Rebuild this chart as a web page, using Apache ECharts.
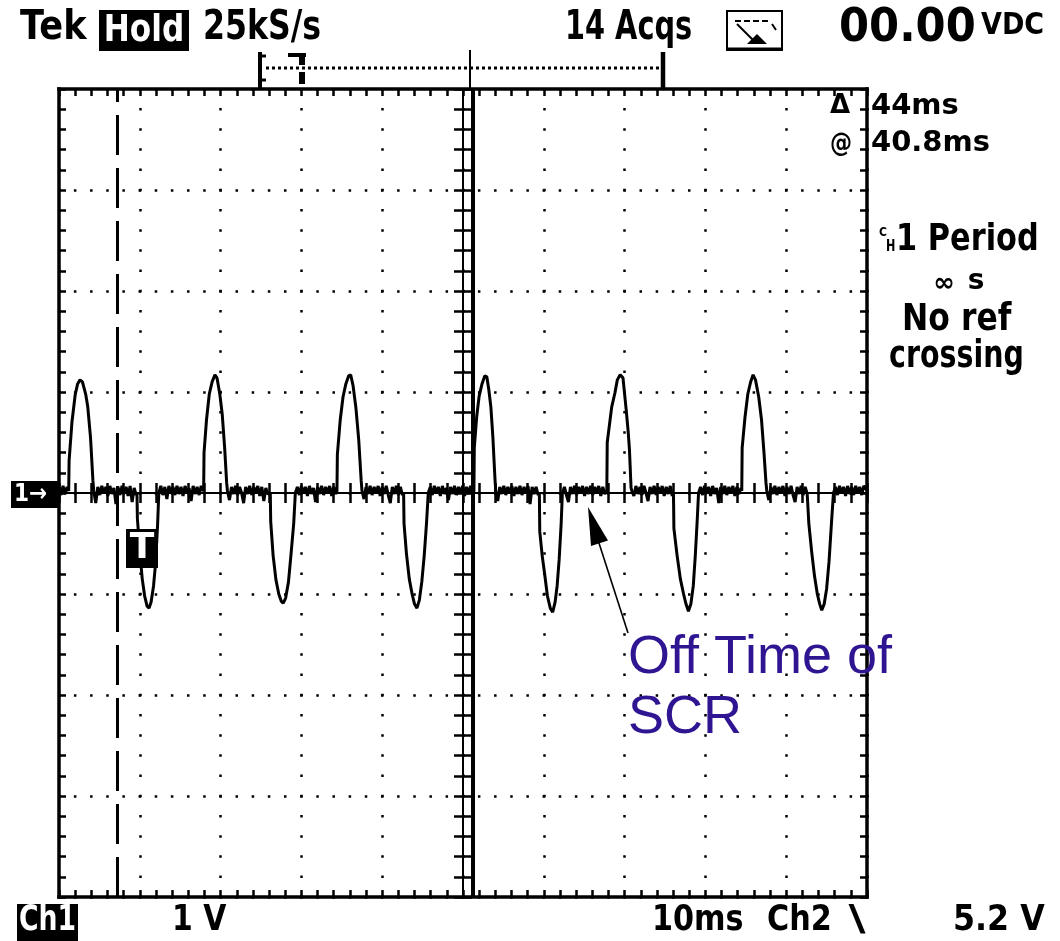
<!DOCTYPE html>
<html>
<head>
<meta charset="utf-8">
<script src="https://cdn.jsdelivr.net/npm/echarts/dist/echarts.min.js"></script>
<style>
html,body{margin:0;padding:0;background:#fff;}
#chart{width:1060px;height:941px;}
</style>
</head>
<body>
<div id="chart"></div>
<script>
// ---------- data ----------
// time axis: 10 divisions x 10 ms/div ; volt axis: 8 divisions x 1 V/div
const timeRangeMs = [0, 100];
const voltRange = [-4, 4];
const centerTimeRange = [-50, 50];
// cursor positions (ms): dashed cursor and active cursor, delta = 44 ms
const cursorMs = [7.2, 51.25];
// Ch1 trace: [time ms, volts]
const ch1Trace = [
  [0,0.05],[0.25,-0.02],[0.5,0.07],[0.75,-0.01],[1.0,0.06],
  [1.2,0.02],[1.25,0.32],[1.6,0.7],[2.0,0.97],[2.3,1.08],[2.6,1.12],[2.9,1.1],[3.3,0.98],[3.55,0.86],[3.9,0.55],[4.2,0.12],[4.3,0.02],
  [4.55,-0.1],[4.8,0.06],[5.05,-0.02],[5.3,0.07],[5.55,0.0],[5.8,0.06],[6.05,-0.03],[6.3,0.07],[6.55,-0.01],[6.8,0.05],[7.05,-0.11],[7.3,0.06],[7.55,-0.02],[7.8,0.07],[8.05,0.0],[8.3,0.06],[8.55,-0.03],[8.8,0.07],[9.05,-0.09],[9.3,0.05],[9.55,-0.02],
  [9.65,0.0],[9.7,-0.25],[10.0,-0.58],[10.3,-0.85],[10.6,-1.02],[10.9,-1.12],[11.15,-1.14],[11.4,-1.08],[11.7,-0.92],[11.95,-0.7],[12.2,-0.32],[12.35,0.0],
  [12.6,0.07],[12.85,-0.02],[13.1,0.06],[13.35,-0.06],[13.6,0.07],[13.85,0.0],[14.1,0.06],[14.35,-0.02],[14.6,0.07],[14.85,-0.01],[15.1,0.06],[15.35,-0.03],[15.6,0.07],[15.85,0.0],[16.1,0.05],[16.35,-0.08],[16.6,0.07],[16.85,-0.01],[17.1,0.06],[17.35,-0.02],[17.6,0.07],
  [17.9,0.02],[17.95,0.4],[18.25,0.72],[18.6,0.98],[18.95,1.1],[19.3,1.17],[19.55,1.14],[19.9,0.98],[20.2,0.78],[20.5,0.45],[20.75,0.1],[20.85,0.02],
  [21.1,-0.07],[21.35,0.06],[21.6,-0.01],[21.85,0.07],[22.1,-0.02],[22.35,0.06],[22.6,0.0],[22.85,-0.1],[23.1,0.06],[23.35,-0.01],[23.6,0.07],[23.85,-0.02],[24.1,0.06],[24.35,0.0],[24.6,0.07],[24.85,-0.03],[25.1,0.06],[25.35,-0.08],[25.6,0.05],[25.85,-0.01],
  [26.15,0.0],[26.2,-0.28],[26.5,-0.62],[26.85,-0.86],[27.2,-1.0],[27.5,-1.07],[27.75,-1.09],[28.05,-1.04],[28.4,-0.88],[28.7,-0.62],[29.05,-0.3],[29.25,0.0],
  [29.5,0.06],[29.75,-0.02],[30.0,0.07],[30.25,0.0],[30.5,0.06],[30.75,-0.03],[31.0,0.07],[31.25,-0.01],[31.5,0.05],[31.75,-0.09],[32.0,0.06],[32.25,-0.01],[32.5,0.07],[32.75,-0.02],[33.0,0.06],[33.25,0.0],[33.5,0.07],[33.75,-0.03],[34.0,0.06],[34.25,-0.01],
  [34.4,0.02],[34.45,0.38],[34.8,0.72],[35.15,0.95],[35.5,1.08],[35.85,1.16],[36.1,1.17],[36.4,1.06],[36.75,0.84],[37.1,0.52],[37.4,0.12],[37.5,0.02],
  [37.75,-0.06],[38.0,0.06],[38.25,-0.01],[38.5,0.07],[38.75,-0.02],[39.0,0.06],[39.25,0.0],[39.5,0.07],[39.75,-0.03],[40.0,0.06],[40.25,-0.01],[40.5,0.07],[40.75,-0.02],[41.0,-0.1],[41.25,0.06],[41.5,-0.01],[41.75,0.07],[42.0,-0.02],[42.25,0.06],[42.5,-0.02],
  [42.65,0.0],[42.7,-0.3],[43.0,-0.6],[43.35,-0.85],[43.7,-1.0],[44.0,-1.1],[44.3,-1.14],[44.6,-1.06],[44.9,-0.88],[45.2,-0.62],[45.5,-0.28],[45.7,0.0],
  [45.95,0.06],[46.2,-0.02],[46.45,0.07],[46.7,0.0],[46.95,0.06],[47.2,-0.03],[47.45,0.07],[47.7,-0.01],[47.95,0.05],[48.2,-0.07],[48.45,0.06],[48.7,-0.01],[48.95,0.07],[49.2,-0.02],[49.45,0.06],[49.7,0.0],[49.95,0.07],[50.2,-0.03],[50.45,0.06],[50.7,-0.01],[50.95,0.07],[51.2,-0.02],
  [51.35,0.02],[51.4,0.45],[51.7,0.76],[52.0,0.96],[52.35,1.08],[52.7,1.16],[52.95,1.15],[53.2,1.02],[53.45,0.85],[53.7,0.55],[53.95,0.15],[54.05,0.02],
  [54.3,-0.08],[54.55,0.06],[54.8,-0.01],[55.05,0.07],[55.3,-0.02],[55.55,0.06],[55.8,0.0],[56.05,0.07],[56.3,-0.03],[56.55,0.06],[56.8,-0.01],[57.05,0.07],[57.3,-0.02],[57.55,0.06],[57.8,0.0],[58.05,0.07],[58.3,-0.11],[58.55,0.06],[58.8,-0.01],[59.05,0.06],[59.3,-0.02],
  [59.45,0.0],[59.5,-0.38],[59.8,-0.62],[60.1,-0.8],[60.45,-1.02],[60.8,-1.14],[61.1,-1.18],[61.4,-1.08],[61.65,-0.92],[61.9,-0.66],[62.15,-0.3],[62.3,0.0],
  [62.55,0.06],[62.8,-0.02],[63.05,-0.09],[63.3,0.06],[63.55,-0.01],[63.8,0.07],[64.05,-0.02],[64.3,0.06],[64.55,0.0],[64.8,0.07],[65.05,-0.03],[65.3,0.06],[65.55,-0.01],[65.8,0.07],[66.05,-0.02],[66.3,0.06],[66.55,0.0],[66.8,0.07],[67.05,-0.03],[67.3,0.06],[67.55,-0.01],
  [67.8,0.02],[67.85,0.5],[68.4,0.85],[68.8,0.99],[69.1,1.12],[69.45,1.17],[69.8,1.14],[70.2,0.82],[70.45,0.6],[70.6,0.43],[70.8,0.05],[70.9,0.02],
  [71.15,-0.03],[71.4,0.07],[71.65,-0.01],[71.9,0.06],[72.15,-0.02],[72.4,0.07],[72.65,0.0],[72.9,-0.08],[73.15,0.06],[73.4,-0.01],[73.65,0.07],[73.9,-0.02],[74.15,0.06],[74.4,0.0],[74.65,0.07],[74.9,-0.03],[75.15,0.06],[75.4,-0.01],[75.65,0.07],[75.9,-0.03],
  [76.05,0.0],[76.1,-0.35],[76.5,-0.62],[76.9,-0.85],[77.3,-1.0],[77.6,-1.1],[77.9,-1.17],[78.2,-1.1],[78.5,-0.92],[78.75,-0.62],[79.0,-0.25],[79.15,0.0],
  [79.4,0.06],[79.65,-0.02],[79.9,0.07],[80.15,0.0],[80.4,0.06],[80.65,-0.03],[80.9,0.07],[81.15,-0.01],[81.4,0.05],[81.65,-0.1],[81.9,0.06],[82.15,-0.01],[82.4,0.07],[82.65,-0.02],[82.9,0.06],[83.15,0.0],[83.4,0.07],[83.65,-0.03],[83.9,0.06],[84.15,-0.01],[84.4,0.05],
  [84.5,0.02],[84.55,0.45],[84.9,0.75],[85.25,0.98],[85.6,1.1],[85.9,1.17],[86.2,1.12],[86.6,0.95],[86.95,0.72],[87.25,0.4],[87.5,0.1],[87.6,0.02],
  [87.85,-0.07],[88.1,0.06],[88.35,-0.01],[88.6,0.07],[88.85,-0.02],[89.1,0.06],[89.35,0.0],[89.6,0.07],[89.85,-0.03],[90.1,0.06],[90.35,-0.01],[90.6,0.07],[90.85,-0.02],[91.1,-0.09],[91.35,0.06],[91.6,-0.01],[91.85,0.07],[92.1,-0.02],[92.35,0.06],[92.6,-0.01],
  [92.75,0.0],[92.8,-0.3],[93.15,-0.58],[93.5,-0.82],[93.85,-1.0],[94.15,-1.1],[94.4,-1.16],[94.7,-1.1],[95.0,-0.95],[95.3,-0.68],[95.6,-0.3],[95.85,0.0],
  [96.1,0.06],[96.35,-0.02],[96.6,0.07],[96.85,0.0],[97.1,0.06],[97.35,-0.03],[97.6,0.07],[97.85,-0.01],[98.1,0.06],[98.35,-0.02],[98.6,0.07],[98.85,0.0],[99.1,0.06],[99.35,-0.02],[99.6,0.07],[100,0.03]
];
// readout texts
const headerTexts = ['Tek', 'Hold', '25kS/s', '14 Acqs', '00.00', 'VDC'];
const cursorTexts = ['\u0394', '44ms', '@', '40.8ms'];
const measureTexts = ['1 Period', '\u221E', 's', 'No ref', 'crossing'];
const footerTexts = ['Ch1', '1 V', '10ms', 'Ch2', '\\', '5.2 V'];
const annotationLines = ['Off Time of', 'SCR'];

// ---------- chart ----------
const FONT = '"DejaVu Sans"';
function txt(s, x, y, size, sx, extra) {
  const st = Object.assign({
    text: s, font: 'bold ' + size + 'px ' + FONT, fill: '#000',
    align: 'left', textAlign: 'left', verticalAlign: 'middle', textVerticalAlign: 'middle'
  }, extra || {});
  return { type: 'text', x: x, y: y, scaleX: sx || 1, z: 100, style: st };
}
function ctxt(s, x, y, size, sx, extra) {
  return txt(s, x, y, size, sx, Object.assign({ align: 'center', textAlign: 'center' }, extra || {}));
}
function rect(x, y, w, h, style) {
  return { type: 'rect', z: 100, shape: { x: x, y: y, width: w, height: h }, style: style || { fill: '#000' } };
}
function seg(x1, y1, x2, y2, w, dash) {
  const st = { stroke: '#000', lineWidth: w };
  if (dash) st.lineDash = dash;
  return { type: 'line', z: 100, shape: { x1: x1, y1: y1, x2: x2, y2: y2 }, style: st };
}

const black = '#000';
const borderLine = { show: true, onZero: false, lineStyle: { color: black, width: 3.5, cap: 'square' } };
const borderTick = { show: true, inside: true, length: 7, lineStyle: { color: black, width: 2.5 } };
const borderMinor = { show: true, splitNumber: 5, length: 7, lineStyle: { color: black, width: 2.5 } };
const noLabel = { show: false };

const chart = echarts.init(document.getElementById('chart'), null, { renderer: 'canvas' });
chart.setOption({
  animation: false,
  backgroundColor: '#fff',
  grid: { left: 59, top: 89, width: 808, height: 808, containLabel: false, outerBoundsMode: 'none' },
  xAxis: [
    { type: 'value', min: timeRangeMs[0], max: timeRangeMs[1], interval: 10, position: 'bottom',
      axisLine: borderLine, axisTick: borderTick, minorTick: borderMinor, axisLabel: noLabel,
      splitLine: { show: true, lineStyle: { color: black, width: 2.5, type: [2.5, 17.7], dashOffset: 1.25 } } },
    { type: 'value', min: timeRangeMs[0], max: timeRangeMs[1], interval: 10, position: 'top',
      axisLine: borderLine, axisTick: borderTick, minorTick: borderMinor, axisLabel: noLabel, splitLine: { show: false } },
    { type: 'value', min: timeRangeMs[0], max: timeRangeMs[1], interval: 2, position: 'bottom',
      axisLine: { show: true, onZero: true, onZeroAxisIndex: 0, lineStyle: { color: black, width: 2 } },
      axisTick: { show: true, inside: true, length: 10, lineStyle: { color: black, width: 2.5 } },
      axisLabel: noLabel, splitLine: { show: false } },
    { type: 'value', min: timeRangeMs[0], max: timeRangeMs[1], interval: 2, position: 'bottom',
      axisLine: { show: true, onZero: true, onZeroAxisIndex: 0, lineStyle: { color: black, width: 2 } },
      axisTick: { show: true, inside: false, length: 10, lineStyle: { color: black, width: 2.5 } },
      axisLabel: noLabel, splitLine: { show: false } },
    { type: 'value', min: centerTimeRange[0], max: centerTimeRange[1], show: false, position: 'bottom',
      axisLine: { onZero: false }, splitLine: { show: false } }
  ],
  yAxis: [
    { type: 'value', min: voltRange[0], max: voltRange[1], interval: 1, position: 'left',
      axisLine: borderLine, axisTick: borderTick, minorTick: borderMinor, axisLabel: noLabel,
      splitLine: { show: true, lineStyle: { color: black, width: 2.5, type: [2.5, 13.66], dashOffset: 1.25 } } },
    { type: 'value', min: voltRange[0], max: voltRange[1], interval: 1, position: 'right',
      axisLine: borderLine, axisTick: borderTick, minorTick: borderMinor, axisLabel: noLabel, splitLine: { show: false } },
    { type: 'value', min: voltRange[0], max: voltRange[1], interval: 0.2, position: 'left',
      axisLine: { show: true, onZero: true, onZeroAxisIndex: 4, lineStyle: { color: black, width: 2 } },
      axisTick: { show: true, inside: true, length: 9, lineStyle: { color: black, width: 2.5 } },
      axisLabel: noLabel, splitLine: { show: false } },
    { type: 'value', min: voltRange[0], max: voltRange[1], interval: 0.2, position: 'left',
      axisLine: { show: true, onZero: true, onZeroAxisIndex: 4, lineStyle: { color: black, width: 2 } },
      axisTick: { show: true, inside: false, length: 9, lineStyle: { color: black, width: 2.5 } },
      axisLabel: noLabel, splitLine: { show: false } }
  ],
  series: [{
    type: 'line', xAxisIndex: 0, yAxisIndex: 0, data: ch1Trace,
    symbol: 'none', showSymbol: false, smooth: false, z: 5,
    lineStyle: { color: black, width: 3 },
    markLine: {
      silent: true, symbol: 'none', label: { show: false }, animation: false,
      data: [
        { xAxis: cursorMs[0], lineStyle: { color: black, width: 3, type: [40, 13] } },
        { xAxis: cursorMs[1], lineStyle: { color: black, width: 4, type: 'solid' } }
      ]
    }
  }],
  graphic: { elements: [
    // header
    txt(headerTexts[0], 20, 29, 40, 0.88),
    rect(99, 10, 90, 41),
    ctxt(headerTexts[1], 144, 31, 38, 0.82, { fill: '#fff' }),
    txt(headerTexts[2], 203, 29, 40, 0.79),
    txt(headerTexts[3], 565, 29, 40, 0.72),
    rect(727, 11, 55, 39, { fill: 'none', stroke: '#000', lineWidth: 2 }),
    seg(727, 49, 782, 49, 3),
    seg(735, 21, 771, 21, 2, [6, 3]),
    seg(737, 24, 756, 43, 2),
    { type: 'polygon', z: 100, shape: { points: [[747, 44], [757, 34], [767, 44]] }, style: { fill: '#000' } },
    seg(772, 24, 776, 30, 2),
    txt(headerTexts[4], 839, 29, 47, 0.92),
    txt(headerTexts[5], 981, 26, 30, 0.9),
    // trigger / position markers above the graticule
    seg(260, 52, 260, 89, 4),
    seg(260, 56, 266, 56, 3),
    seg(260, 80, 266, 80, 3),
    seg(266, 68, 663, 68, 3, [3, 3]),
    rect(288, 53, 18, 4),
    rect(299, 53, 6, 12),
    rect(299, 72, 6, 12),
    seg(663, 52, 663, 89, 4.5),
    seg(470, 50, 470, 89, 2),
    // cursor readouts
    ctxt(cursorTexts[0], 840, 106, 26, 1),
    txt(cursorTexts[1], 871, 106.5, 29, 1),
    ctxt(cursorTexts[2], 841, 144, 26, 0.85),
    txt(cursorTexts[3], 871, 143.5, 29, 1),
    // measurement readout
    txt('C', 879, 233, 12, 0.9),
    txt('H', 886, 247, 16, 0.7),
    txt(measureTexts[0], 896, 240, 38, 0.8),
    ctxt(measureTexts[1], 944, 284, 26, 1),
    ctxt(measureTexts[2], 976, 282, 28, 1),
    txt(measureTexts[3], 902, 320, 37, 0.85),
    txt(measureTexts[4], 889, 357, 37, 0.77),
    // ground marker and trigger marker
    rect(11, 481, 47, 27),
    txt('1\u2192', 14, 494.5, 24, 0.9, { fill: '#fff' }),
    rect(126, 529, 32, 39),
    ctxt('T', 142, 549, 36, 1, { fill: '#fff' }),
    // footer
    rect(17, 904, 61, 37),
    ctxt(footerTexts[0], 47.5, 921, 36, 0.74, { fill: '#fff' }),
    txt(footerTexts[1], 172, 920.5, 36, 0.83),
    txt(footerTexts[2], 652, 920.5, 36, 0.84),
    txt(footerTexts[3], 767, 920.5, 36, 0.84),
    ctxt(footerTexts[4], 857, 920.5, 36, 1.3),
    txt(footerTexts[5], 953, 920.5, 36, 0.88),
    // annotation
    seg(628, 633, 598, 540, 1.6),
    { type: 'polygon', z: 100, shape: { points: [[588, 507], [608, 540.5], [591, 546]] }, style: { fill: '#000' } },
    txt(annotationLines[0], 628, 658.5, 54, 1, { font: '54px "Liberation Sans"', fill: '#2f1592' }),
    txt(annotationLines[1], 628, 718.5, 54, 1, { font: '54px "Liberation Sans"', fill: '#2f1592' })
  ] }
});
</script>
</body>
</html>
